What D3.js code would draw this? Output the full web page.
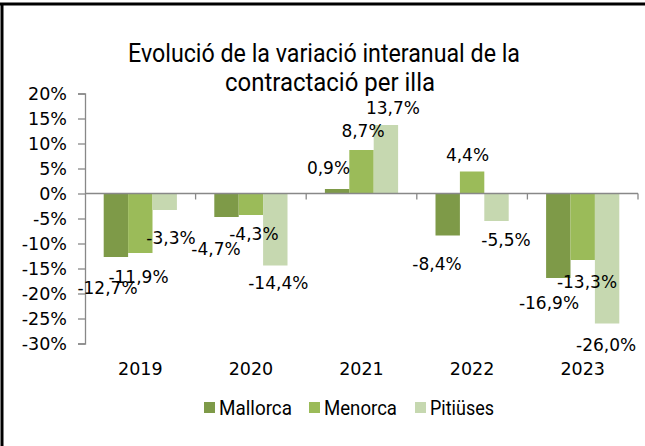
<!DOCTYPE html>
<html><head><meta charset="utf-8">
<script src="https://cdn.jsdelivr.net/npm/d3@7"></script>
<style>
html,body{margin:0;padding:0;background:#fff;}
svg{display:block;}
</style></head>
<body>
<svg id="chart" width="645" height="446"></svg>
<script>
// ---- data ----
const years = ["2019", "2020", "2021", "2022", "2023"];
const seriesNames = ["Mallorca", "Menorca", "Pitiüses"];
const mallorca = [-12.7, -4.7, 0.9, -8.4, -16.9];
const menorca  = [-11.9, -4.3, 8.7, 4.4, -13.3];
const pitiuses = [-3.3, -14.4, 13.7, -5.5, -26.0];
const yTicks = [-30, -25, -20, -15, -10, -5, 0, 5, 10, 15, 20];
const titleLines = ["Evolució de la variació interanual de la", "contractació per illa"];

// ---- layout / style (kept separate from data) ----
const colors = ["#7e9a48", "#9bbb59", "#c6d8b0"];
// label nudges [dx, dy] from bar centre / bar end, per series then per year
const labelNudge = [
  [[-8.4, 32], [-10.5, 33], [-8.6, -19.5], [-10.7, 29.5], [-9.3, 26]],
  [[-1.8, 25], [3, 20], [1.5, -17.5], [-4.6, -15.5], [4.3, 23]],
  [[6.3, 29], [3, 19], [7, -15.5], [9.5, 20], [-1, 22.5]]
];
const series = [mallorca, menorca, pitiuses];

const svg = d3.select("#chart");
const numFont = "'DejaVu Sans', sans-serif";
const txtFont = "Roboto, sans-serif";

// frame (cropped border)
svg.append("line").attr("x1", 2).attr("x2", 2).attr("y1", 3).attr("y2", 446)
  .attr("stroke", "#000").attr("stroke-width", 3);
svg.append("line").attr("x1", 0).attr("x2", 645).attr("y1", 4).attr("y2", 4)
  .attr("stroke", "#000").attr("stroke-width", 3);

// scales
const x0 = d3.scaleBand().domain(years).range([85, 638]).padding(0);
const groupPad = 18.7;
const x1 = d3.scaleBand().domain(d3.range(3)).range([groupPad, x0.bandwidth() - groupPad]).padding(0);
const y = d3.scaleLinear().domain([-30, 20]).range([343.5, 93.5]);

// title
const titleX = [324, 330], titleY = [62, 91], titleW = [392, 210];
svg.selectAll("text.title").data(titleLines).join("text")
  .attr("class", "title")
  .attr("x", (d, i) => titleX[i]).attr("y", (d, i) => titleY[i])
  .attr("text-anchor", "middle")
  .attr("font-family", txtFont).attr("font-size", 26)
  .attr("textLength", (d, i) => titleW[i]).attr("lengthAdjust", "spacingAndGlyphs")
  .attr("fill", "#000").text(d => d);

// y axis
const yAxis = svg.append("g").attr("transform", "translate(85,0)")
  .call(d3.axisLeft(y).tickValues(yTicks).tickSize(7).tickFormat(d => d + "%"));
yAxis.select(".domain").attr("stroke", "#888").attr("stroke-width", 1.3);
yAxis.selectAll(".tick line").attr("stroke", "#888").attr("stroke-width", 1.3);
yAxis.selectAll(".tick text").attr("font-family", numFont).attr("font-size", 17.5)
  .attr("fill", "#000").attr("x", -18).attr("dy", "0.36em");

// bars
series.forEach((vals, s) => {
  svg.append("g").selectAll("rect").data(vals).join("rect")
    .attr("x", (d, i) => x0(years[i]) + x1(s))
    .attr("width", x1.bandwidth())
    .attr("y", d => Math.min(y(d), y(0)))
    .attr("height", d => Math.abs(y(d) - y(0)))
    .attr("fill", colors[s]);
});

// x axis (zero line with category ticks)
const xAxis = svg.append("g").attr("transform", `translate(0,${y(0)})`);
xAxis.append("line").attr("x1", 85).attr("x2", 638).attr("y1", 0).attr("y2", 0)
  .attr("stroke", "#888").attr("stroke-width", 1.3);
const bounds = years.map(d => x0(d)).concat([x0(years[years.length - 1]) + x0.bandwidth()]);
xAxis.selectAll("line.tk").data(bounds.slice(1)).join("line").attr("class", "tk")
  .attr("x1", d => d).attr("x2", d => d).attr("y1", 0).attr("y2", 6)
  .attr("stroke", "#888").attr("stroke-width", 1.3);

// category labels
svg.selectAll("text.cat").data(years).join("text").attr("class", "cat")
  .attr("x", d => x0(d) + x0.bandwidth() / 2).attr("y", 375)
  .attr("text-anchor", "middle").attr("font-family", numFont).attr("font-size", 17.5)
  .attr("fill", "#000").text(d => d);

// data labels
const fmt = v => v.toFixed(1).replace(".", ",") + "%";
series.forEach((vals, s) => {
  svg.append("g").selectAll("text").data(vals).join("text")
    .attr("x", (d, i) => x0(years[i]) + x1(s) + x1.bandwidth() / 2 + labelNudge[s][i][0])
    .attr("y", (d, i) => y(d) + labelNudge[s][i][1] + 4.5)
    .attr("text-anchor", "middle").attr("font-family", numFont).attr("font-size", 17)
    .attr("fill", "#000").text(d => fmt(d));
});

// legend
const legX = [204, 309, 415], legW = [73, 73, 64];
const leg = svg.append("g");
seriesNames.forEach((n, i) => {
  leg.append("rect").attr("x", legX[i]).attr("y", 402).attr("width", 11).attr("height", 11)
    .attr("fill", colors[i]);
  leg.append("text").attr("x", legX[i] + 15).attr("y", 414.5)
    .attr("font-family", txtFont).attr("font-size", 19.5)
    .attr("textLength", legW[i]).attr("lengthAdjust", "spacingAndGlyphs")
    .attr("fill", "#000").text(n);
});
</script>
</body></html>
